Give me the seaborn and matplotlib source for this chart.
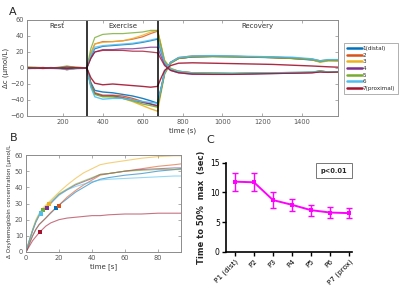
import numpy as np
import pandas as pd
import matplotlib
matplotlib.use("Agg")
import matplotlib.pyplot as plt
import seaborn as sns

sns.set_theme(style="white")
plt.rcParams['font.family'] = ['DejaVu Sans']

# ---------------- Panel A data ----------------
channels = ["1(distal)", "2", "3", "4", "5", "6", "7(proximal)"]
colors = ["#0072BD", "#D95319", "#EDB120", "#7E2F8E", "#77AC30", "#4DBEEE", "#A2142F"]

t_a = [20, 60, 100, 140, 180, 220, 260, 300, 320, 340, 360, 400, 450, 500, 550, 600,
       640, 675, 690, 710, 740, 780, 850, 950, 1050, 1150, 1250, 1350, 1450, 1490, 1530, 1580]

up_1 = [0.5, 0, -0.5, 0, 0.5, 1.5, 0.5, 0, 0, 14, 24, 27, 28, 29, 30, 32, 34, 36, 22, 6, -2, -5, -6, -6.5, -7, -7, -6.5, -6, -5.5, -4, -5, -4.5]
up_2 = [0, 0.5, 0, -0.5, 0, 2, 1, 0.5, 0, 18, 30, 33, 33, 34, 36, 39, 43, 46, 30, 8, -1, -4, -6, -6.5, -7, -6.5, -6, -6, -5.5, -3.5, -5, -4.5]
up_3 = [0.5, 0, 0.5, 0, -0.5, 1, 0.5, 0, 0, 18, 30, 32, 33, 34, 37, 41, 45, 47, 32, 10, 0, -4, -6, -6.5, -7, -6.5, -6, -6, -5.5, -4, -5, -5]
up_4 = [0, -0.5, 0, 0.5, 0, -1, 0, 0, 0, 12, 20, 23, 23, 24, 24, 25, 26, 26, 16, 4, -3, -6, -8, -8, -8, -7.5, -7, -6.5, -6, -5, -5.5, -5]
up_5 = [1.5, 1, 0.5, 0, 1, 2.5, 1, 0.5, 0, 24, 38, 42, 43, 43, 44, 45, 47, 47, 30, 9, -1, -4, -6, -6.5, -6.5, -6, -6, -5.5, -5, -3.5, -5, -5]
up_6 = [0, 0.5, 0, 0, 0.5, 1, 0.5, 0, 0, 16, 26, 28, 29, 30, 31, 33, 35, 37, 24, 7, -1, -4, -6, -6.5, -6.5, -6, -6, -5.5, -5, -4, -5, -4.5]
up_7 = [0, 0, 0.5, 0, 0, 1, 0.5, 0, 0, 12, 20, 22, 22, 22, 21, 21, 20, 19, 12, 3, -3, -6, -7.5, -8, -8, -7.5, -7, -6.5, -6, -5, -5.5, -5]

dn_1 = [0, -0.5, 0, 0.5, 0, -1, 0, -0.5, 0, -18, -28, -30, -31, -33, -35, -38, -41, -44, -28, -6, 6, 12, 14, 14.5, 14, 13.5, 13, 12, 10, 8, 9.5, 9.5]
dn_2 = [0, 0, -0.5, 0, 0, -2, -0.5, 0, 0, -20, -31, -34, -34, -35, -38, -42, -45, -48, -30, -6, 7, 13, 15, 15, 14.5, 14, 13, 12, 10.5, 8, 9.5, 9]
dn_3 = [-0.5, 0, 0, 0, -0.5, -1.5, -0.5, 0, 0, -21, -32, -35, -36, -38, -42, -47, -51, -54, -34, -8, 6, 12, 14, 14.5, 14, 14, 13.5, 12.5, 10.5, 7, 9, 9]
dn_4 = [0, 0, 0.5, 0, 0, -1.5, -0.5, 0, 0, -21, -32, -35, -35, -37, -40, -43, -45, -47, -30, -6, 7, 12, 14, 14.5, 14.5, 14, 13.5, 12.5, 11, 9, 10, 10]
dn_5 = [0.5, 0, 0.5, 0, 0.5, -2, -0.5, 0, 0, -22, -33, -36, -36, -38, -41, -45, -47, -49, -31, -7, 6, 12, 14, 14.5, 14, 14, 13, 12, 10.5, 8, 9.5, 9.5]
dn_6 = [-1, -0.5, -0.5, -0.5, -1, -2, -1, -0.5, 0, -24, -36, -39, -38, -38, -40, -42, -43, -44, -28, -6, 7, 13, 15, 15.5, 15, 14.5, 14, 13.5, 11.5, 9, 10.5, 10.5]
dn_7 = [0, 0, -0.5, 0, 0, -1, 0, 0, 0, -12, -19, -21, -20, -21, -22, -23, -24, -23, -14, -3, 3, 6, 6.5, 6, 5.5, 5, 4.5, 3.5, 2.5, 2, 1.5, 1]

phase_labels = ["Rest", "Exercise", "Recovery"]
phase_x = [170, 500, 1175]
phase_bounds = [320, 675]

# ---------------- Panel B data ----------------
t_b = [0, 2, 4, 6, 8, 10, 12, 15, 20, 25, 30, 35, 40, 45, 50, 60, 70, 80, 90, 94]
b_1 = [0, 5, 10, 14, 17, 19, 21, 24, 29, 33, 37, 40, 43, 45, 46, 47.5, 48.5, 50, 51, 51.5]
b_2 = [0, 5, 10, 14, 17, 19, 21, 24.5, 29, 34, 38, 41.5, 44.5, 47.5, 48.5, 50, 51.5, 53, 54, 54.5]
b_3 = [0, 7, 14, 20, 24, 27, 29, 32, 37, 41.5, 45.5, 49, 51.5, 54, 55, 56.5, 58, 59, 59.5, 59.5]
b_4 = [0, 7, 13, 18.5, 22.5, 25.5, 27, 30, 35.5, 38.5, 41.5, 43.5, 45.5, 48, 48.5, 50, 51, 51.5, 52, 52]
b_5 = [0, 7, 13.5, 19, 23, 26, 28, 31, 36, 39, 42, 44, 46, 48, 48.5, 50, 50.5, 51, 51, 51]
b_6 = [0, 7, 13.5, 19, 23, 25.5, 27.5, 30.5, 35, 38.5, 40.5, 42, 43.5, 44.5, 45, 45.5, 46, 46.5, 47, 47]
b_7 = [0, 3.5, 7, 9.5, 12, 14, 16, 18, 20, 21, 21.5, 22, 22.5, 22.5, 23, 23.5, 23.5, 24, 24, 24]
t_half = [18, 19.8, 14.1, 12.5, 10.5, 8.9, 8.3]
v_half = [27, 28.6, 29.8, 27.3, 25.9, 23.8, 12.2]

# ---------------- Panel C data ----------------
positions = ["P1 (dist)", "P2", "P3", "P4", "P5", "P6", "P7 (prox)"]
t50 = [11.8, 11.7, 8.7, 7.9, 7.0, 6.6, 6.5]
t50_err = [1.5, 1.55, 1.3, 1.0, 0.9, 0.85, 0.85]

W, H = 400, 288
fig = plt.figure(figsize=(W / 100, H / 100), dpi=100)


def px_axes(l, r, t, b):
    return fig.add_axes([l / W, 1 - b / H, (r - l) / W, (b - t) / H])


frame_col = "#8c8c8c"
tick_col = "#555555"


def matlab_style(ax):
    for s in ax.spines.values():
        s.set_color(frame_col)
        s.set_linewidth(0.7)
        s.set_visible(True)
    ax.tick_params(direction="in", length=2.5, width=0.5, colors=frame_col,
                   labelcolor=tick_col, labelsize=4.8, top=True, right=True,
                   bottom=True, left=True, pad=2)


# ---------------- Panel A ----------------
axA = px_axes(27, 338, 20, 116)
ups = [up_1, up_2, up_3, up_4, up_5, up_6, up_7]
dns = [dn_1, dn_2, dn_3, dn_4, dn_5, dn_6, dn_7]
for name, col, u, d in zip(channels, colors, ups, dns):
    sns.lineplot(x=t_a, y=d, ax=axA, color=col, lw=1.0, alpha=0.9)
    sns.lineplot(x=t_a, y=u, ax=axA, color=col, lw=0.9, alpha=0.8)
for xb in phase_bounds:
    axA.axvline(xb, color="black", lw=1.1)
for lab, xp in zip(phase_labels, phase_x):
    axA.text(xp, 53, lab, ha="center", va="center", fontsize=5, color="#333333")
axA.set_xlim(20, 1580)
axA.set_ylim(-60, 60)
axA.set_xticks([200, 400, 600, 800, 1000, 1200, 1400])
axA.set_yticks([-60, -40, -20, 0, 20, 40, 60])
axA.set_xlabel("time (s)", fontsize=5, color="#333333", labelpad=2)
axA.set_ylabel("\u0394c (\u03bcmol/L)", fontsize=5, color="#333333", labelpad=1)
matlab_style(axA)

handles = [plt.Line2D([0], [0], color=c, lw=1.8) for c in colors]
leg = fig.legend(handles, channels, loc="upper left",
                 bbox_to_anchor=(344 / W, 1 - 43 / H), fontsize=4.1,
                 frameon=True, handlelength=2.7, handletextpad=0.1,
                 labelspacing=0.3, borderpad=0.5, borderaxespad=0)
leg.get_frame().set_edgecolor(frame_col)
leg.get_frame().set_linewidth(0.6)
leg.get_frame().set_boxstyle("square", pad=0)

# ---------------- Panel B ----------------
axB = px_axes(26, 181, 155, 252)
bs = [b_1, b_2, b_3, b_4, b_5, b_6, b_7]
for col, b in zip(colors, bs):
    sns.lineplot(x=t_b, y=b, ax=axB, color=col, lw=0.8, alpha=0.6)
sns.scatterplot(x=t_half, y=v_half, ax=axB, hue=channels, palette=colors,
                marker="s", s=9, linewidth=0, legend=False, zorder=5)
axB.set_xlim(0, 94)
axB.set_ylim(0, 60)
axB.set_xticks([0, 20, 40, 60, 80])
axB.set_yticks([0, 10, 20, 30, 40, 50, 60])
axB.set_xlabel("time [s]", fontsize=5, color="#333333", labelpad=2)
axB.set_ylabel("")
matlab_style(axB)
fig.text(9.5 / W, 1 - 258 / H, "\u0394 Oxyhemoglobin concentration [\u03bcmol/L",
         rotation=90, ha="center", va="bottom", fontsize=4.1, color="#333333")

# ---------------- Panel C ----------------
axC = px_axes(226, 352, 162.7, 251.7)
xs = np.arange(len(positions))
sns.lineplot(x=xs, y=t50, ax=axC, color="#FF00FF", lw=1.4, marker="s",
             markersize=3, markeredgewidth=0)
axC.errorbar(xs, t50, yerr=t50_err, fmt="none", ecolor="#FF00FF",
             elinewidth=1.0, capsize=2.2, capthick=1.0)
axC.set_xlim(-0.47, 6.15)
axC.set_ylim(0, 15)
axC.set_yticks([0, 5, 10, 15])
axC.set_xticks(xs)
axC.set_xticklabels(positions, rotation=45, ha="right", rotation_mode="anchor",
                    fontsize=5.2)
axC.tick_params(axis="y", labelsize=5.5)
for s in ["top", "right"]:
    axC.spines[s].set_visible(False)
for s in ["left", "bottom"]:
    axC.spines[s].set_color("black")
    axC.spines[s].set_linewidth(1.2)
axC.tick_params(direction="out", length=3, width=1.0, colors="black", pad=1.5,
                left=True, bottom=True)
axC.set_ylabel("Time to 50%  max  (sec)", fontsize=6, fontweight="bold",
               labelpad=3)
axC.text(334 / W, 1 - 170.5 / H, "p<0.01", transform=fig.transFigure,
         fontsize=4.8, fontweight="bold", ha="center", va="center",
         bbox=dict(boxstyle="square,pad=0.7", fc="white", ec="#777777", lw=0.7))

# panel letters
fig.text(9 / W, 1 - 12 / H, "A", fontsize=8, ha="left", va="center")
fig.text(10 / W, 1 - 138 / H, "B", fontsize=8, ha="left", va="center")
fig.text(206 / W, 1 - 140 / H, "C", fontsize=8, ha="left", va="center")

fig.savefig("out.png", dpi=100)
